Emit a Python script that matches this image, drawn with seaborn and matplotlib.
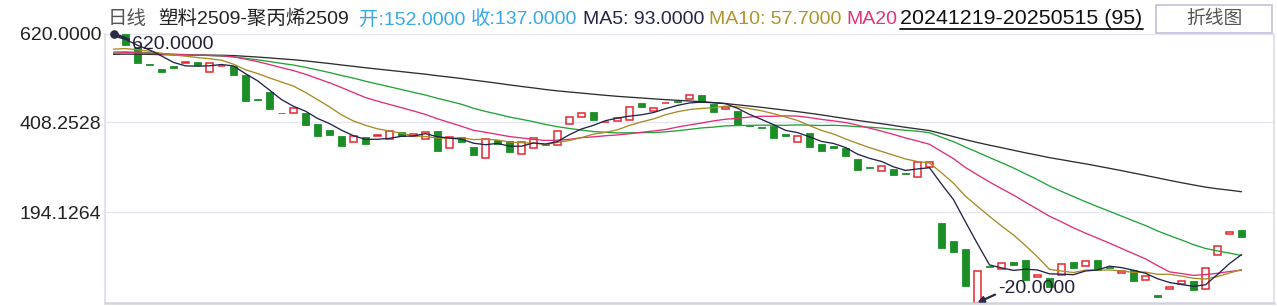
import numpy as np
import pandas as pd
import matplotlib
matplotlib.use("Agg")
import matplotlib.pyplot as plt
from matplotlib.patches import Rectangle
from matplotlib.lines import Line2D
import seaborn as sns

# ---------------- data ----------------
opens = [
    620, 619, 588, 548, 536, 543, 551, 552, 529, 542,
    543, 522, 464, 481, 432, 432, 432, 405, 390, 376,
    361, 373, 377, 370, 385, 376, 368, 388, 347, 373,
    349, 323, 367, 365, 333, 347, 358, 354, 404, 421,
    433, 409, 413, 415, 455, 435, 454, 460, 464, 473,
    453, 441, 436, 402, 398, 401, 380, 361, 383, 357,
    352, 348, 321, 302, 294, 298, 288, 278, 302, 169,
    126, 107, -20, 66, 60, 76, 81, 40, 38, 45,
    76, 66, 81, 65, 50, 57, 33, -2, 11, 25,
    31, 11, 92, 144, 152]
closes = [
    618, 593, 550, 546, 528, 539, 552, 546, 551, 543,
    522, 460, 462, 440, 430, 442, 402, 376, 378, 352,
    376, 358, 378, 389, 376, 380, 386, 341, 373, 363,
    332, 368, 357, 339, 363, 371, 355, 387, 421, 430,
    415, 410, 418, 444, 446, 442, 455, 458, 473, 456,
    434, 445, 402, 401, 396, 372, 377, 375, 351, 341,
    348, 329, 296, 301, 304, 284, 286, 314, 315, 110,
    99, 20, 54, 64, 75, 69, 34, 45, 18, 71,
    63, 78, 57, 63, 54, 32, 42, -8, 18, 30,
    10, 61, 114, 148, 137]
ma5 = [
    614, 606, 592, 581, 566.6, 551.2, 543.0, 542.2, 543.2, 546.2,
    542.8, 524.4, 507.6, 485.4, 462.8, 446.8, 435.2, 418.0, 405.6, 390.0,
    376.8, 368.0, 368.4, 370.6, 375.4, 376.2, 381.8, 374.4, 371.2, 368.6,
    359.0, 355.4, 358.6, 351.8, 351.8, 359.6, 357.0, 363.0, 379.4, 392.8,
    401.6, 412.6, 418.8, 423.4, 426.6, 432.0, 441.0, 449.0, 454.8, 456.8,
    455.2, 453.2, 442.0, 427.6, 415.6, 403.2, 389.6, 384.2, 374.2, 363.2,
    358.4, 348.8, 333.0, 323.0, 315.6, 302.8, 294.2, 297.8, 300.6, 261.8,
    224.8, 171.6, 119.6, 69.4, 62.4, 56.4, 59.2, 57.4, 48.2, 47.4,
    46.2, 55.0, 57.4, 66.4, 63.0, 56.8, 49.6, 36.6, 27.6, 22.8,
    18.4, 22.2, 46.6, 72.6, 94.0]
ma10 = [
    582.7, 584.1, 581.2, 577.9, 572.8, 568.8, 566.1, 562.8, 560.0, 556.4,
    547.0, 533.7, 524.9, 514.3, 504.5, 494.8, 479.8, 462.8, 445.5, 426.4,
    411.8, 401.6, 393.2, 388.1, 382.7, 376.5, 374.9, 371.4, 370.9, 372.0,
    367.6, 368.6, 366.5, 361.5, 360.2, 359.3, 356.2, 360.8, 365.6, 372.3,
    380.6, 384.8, 390.9, 401.4, 409.7, 416.8, 426.8, 433.9, 439.1, 441.7,
    443.6, 447.1, 445.5, 441.2, 436.2, 429.2, 421.4, 413.1, 400.9, 389.4,
    380.8, 369.2, 358.6, 348.6, 339.4, 330.6, 321.5, 315.4, 311.8, 288.7,
    263.8, 232.9, 208.7, 185.0, 162.1, 140.6, 115.4, 88.5, 58.8, 54.9,
    51.3, 57.1, 57.4, 57.3, 55.2, 51.5, 52.3, 47.0, 47.0, 42.9,
    37.6, 35.9, 41.6, 50.1, 58.4]
ma20 = [
    572.9, 574.4, 573.7, 572.9, 571.1, 569.9, 569.4, 568.5, 567.9, 566.9,
    564.9, 558.9, 553.1, 546.1, 538.7, 531.8, 523.0, 512.8, 502.8, 491.4,
    479.4, 467.7, 459.1, 451.2, 443.6, 435.7, 427.4, 417.1, 408.2, 399.2,
    389.7, 385.1, 379.9, 374.8, 371.5, 367.9, 365.6, 366.1, 368.3, 372.2,
    374.1, 376.7, 378.7, 381.5, 385.0, 388.1, 391.5, 397.4, 402.4, 407.0,
    412.1, 416.0, 418.2, 421.3, 423.0, 423.0, 424.1, 423.5, 420.0, 415.6,
    412.2, 408.2, 402.1, 394.9, 387.8, 379.9, 371.5, 364.3, 356.4, 339.1,
    322.3, 301.1, 283.7, 266.8, 250.8, 235.6, 218.5, 202.0, 185.3, 171.8,
    157.6, 145.0, 133.1, 121.2, 108.7, 96.1, 83.9, 67.8, 52.9, 48.9,
    44.5, 46.5, 49.5, 53.7, 56.8]
ma30 = [
    575.9, 576.3, 575.2, 574.0, 572.2, 570.8, 569.8, 568.6, 567.5, 566.2,
    564.2, 560.8, 557.4, 553.3, 548.9, 544.9, 539.5, 533.3, 527.1, 520.1,
    513.8, 506.5, 499.8, 493.4, 486.7, 480.0, 473.6, 465.7, 458.8, 451.6,
    442.1, 434.6, 428.2, 421.3, 415.8, 410.2, 403.6, 398.3, 394.0, 390.2,
    386.7, 385.0, 383.5, 383.7, 384.2, 384.2, 386.0, 388.7, 391.9, 395.3,
    397.3, 400.2, 401.0, 401.4, 402.0, 401.8, 401.5, 402.6, 401.9, 401.1,
    401.7, 400.4, 398.3, 397.1, 395.1, 392.2, 389.9, 387.5, 383.9, 373.3,
    362.7, 349.7, 337.6, 324.9, 312.6, 300.1, 286.1, 272.3, 257.2, 244.3,
    232.0, 219.7, 208.2, 197.0, 185.6, 174.2, 163.1, 150.3, 139.2, 128.8,
    117.6, 108.6, 102.6, 97.5, 91.9]
ma60 = [
    570.5, 570.9, 570.7, 570.4, 569.7, 569.3, 569.1, 568.8, 568.5, 568.2,
    567.5, 565.7, 564.0, 561.9, 559.7, 557.6, 554.9, 551.7, 548.6, 545.1,
    541.9, 538.5, 535.4, 532.4, 529.3, 526.2, 523.2, 519.5, 516.3, 512.9,
    509.0, 505.5, 501.7, 497.7, 494.0, 490.5, 486.7, 483.5, 480.8, 478.2,
    475.5, 472.9, 470.5, 468.5, 466.6, 464.5, 462.7, 461.0, 459.5, 457.7,
    455.6, 453.3, 450.4, 447.4, 444.4, 440.9, 437.5, 434.1, 430.3, 426.4,
    421.9, 417.5, 413.3, 409.2, 405.5, 401.2, 396.8, 392.9, 389.0, 381.8,
    374.7, 367.4, 360.6, 354.3, 348.4, 342.2, 336.1, 330.5, 324.6, 319.8,
    314.7, 310.0, 304.6, 299.2, 293.8, 288.0, 282.3, 276.5, 270.6, 265.0,
    259.7, 254.5, 250.5, 247.3, 243.5]

y_ticks = [620.0, 408.2528, 194.1264]
y_limits = [-20.0, 620.0]
max_value, max_index = 620.0, 0
min_value, min_index = -20.0, 72

title_parts = [
    ("日线", "#555555", 14),
    ("塑料2509-聚丙烯2509", "#222222", 14),
    ("开:152.0000", "#37A9E6", 14),
    ("收:137.0000", "#37A9E6", 14),
    ("MA5: 93.0000", "#25254a", 14),
    ("MA10: 57.7000", "#B0932E", 14),
    ("MA20", "#E2337A", 14),
    ("20241219-20250515 (95)", "#111111", 15.4),
]
button_label = "折线图"

# ---------------- styling ----------------
sns.set_theme(style="white")
plt.rcParams["font.family"] = ["Liberation Sans", "Noto Sans CJK SC", "DejaVu Sans"]

W, H = 1277, 306
fig = plt.figure(figsize=(W / 100, H / 100), dpi=100)
fig.patch.set_facecolor("white")

ax_left, ax_right, ax_top, ax_bottom = 105, 1274, 33.5, 302.5
ax = fig.add_axes([ax_left / W, 1 - ax_bottom / H,
                   (ax_right - ax_left) / W, (ax_bottom - ax_top) / H])
ax.set_facecolor("white")

n = len(closes)
idx = np.arange(n)
px_per_idx = 12.0
x0_px = 113.5
ax.set_xlim((ax_left - x0_px) / px_per_idx, (ax_right - x0_px) / px_per_idx)
ax.set_ylim(*y_limits)

# grid / spines
ax.set_yticks(y_ticks)
ax.set_yticklabels([f"{v:.4f}" for v in y_ticks], fontsize=14, color="#222222")
ax.set_xticks([])
ax.tick_params(axis="y", length=0, pad=2.5)
ax.yaxis.grid(True, color="#E6E6F2", lw=1.0, zorder=0)
ax.xaxis.grid(False)
for side, sp in ax.spines.items():
    sp.set_visible(True)
    sp.set_color("#E0E0EE")
    sp.set_linewidth(1.3)
ax.spines["top"].set_visible(False)
ax.spines["bottom"].set_color("#D2D2E4")
ax.spines["bottom"].set_linewidth(1.8)

# ---------------- candles ----------------
o = np.array(opens, dtype=float)
c = np.array(closes, dtype=float)
up = c >= o
bottom = np.minimum(o, c)
height = np.maximum(np.abs(c - o), 1.6)
red = "#E5262E"
green = "#1B8E28"
ax.bar(idx[~up], height[~up], bottom=bottom[~up], width=0.66,
       color=green, edgecolor=green, linewidth=0.6, zorder=2)
ax.bar(idx[up], height[up], bottom=bottom[up], width=0.64,
       facecolor="none", edgecolor=red, linewidth=1.1, zorder=2)

# ---------------- moving averages ----------------
ma_df = pd.DataFrame({
    "idx": np.tile(idx, 5),
    "value": np.concatenate([ma60, ma30, ma20, ma10, ma5]),
    "line": np.repeat(["MA60", "MA30", "MA20", "MA10", "MA5"], n),
})
palette = {"MA60": "#2E2E2E", "MA30": "#22A336", "MA20": "#E02E78",
           "MA10": "#A88A26", "MA5": "#23234A"}
sns.lineplot(data=ma_df, x="idx", y="value", hue="line", palette=palette,
             linewidth=0.95, legend=False, ax=ax, zorder=3, sort=False,
             estimator=None)
ax.set_xlabel("")
ax.set_ylabel("")

# ---------------- max / min annotations ----------------
ann_color = "#2A2A48"
ax.plot([max_index], [max_value], "o", color=ann_color, markersize=5.2,
        zorder=5, clip_on=False)
ax.annotate(f"{max_value:.4f}", xy=(max_index, max_value),
            xytext=(13.5, -7.8), textcoords="offset points",
            ha="left", va="center", fontsize=14, color="#222233", zorder=6,
            arrowprops=dict(arrowstyle="-", color=ann_color, lw=1.8,
                            shrinkA=0, shrinkB=0, relpos=(0.0, 0.7)),
            annotation_clip=False)
ax.annotate(f"{min_value:.4f}", xy=(min_index, min_value),
            xytext=(15.0, 9.8), textcoords="offset points",
            ha="left", va="center", fontsize=14, color="#222233", zorder=6,
            arrowprops=dict(arrowstyle="-|>", color=ann_color, lw=1.6,
                            mutation_scale=9, shrinkA=0, shrinkB=0,
                            relpos=(0.0, 0.25)),
            annotation_clip=False)

# ---------------- header ----------------
part_x = [108, 158, 359, 471, 583, 709, 846, 900]
base_y = 1 - 24.5 / H
for (txt, col, fs), xp in zip(title_parts, part_x):
    fig.text(xp / W, base_y, txt, color=col, fontsize=fs, ha="left",
             va="baseline")
fig.add_artist(Line2D([900 / W, 1143 / W], [1 - 28.5 / H, 1 - 28.5 / H],
                      color="#111111", lw=1.3))

btn = Rectangle((1156 / W, 1 - 33 / H), 116 / W, 28 / H,
                transform=fig.transFigure, facecolor="white",
                edgecolor="#CACADF", lw=1.4)
fig.add_artist(btn)
fig.text(1214 / W, 1 - 19.5 / H, button_label, color="#555555",
         fontsize=13.5, ha="center", va="center")

fig.savefig("out.png", dpi=100, facecolor="white")
